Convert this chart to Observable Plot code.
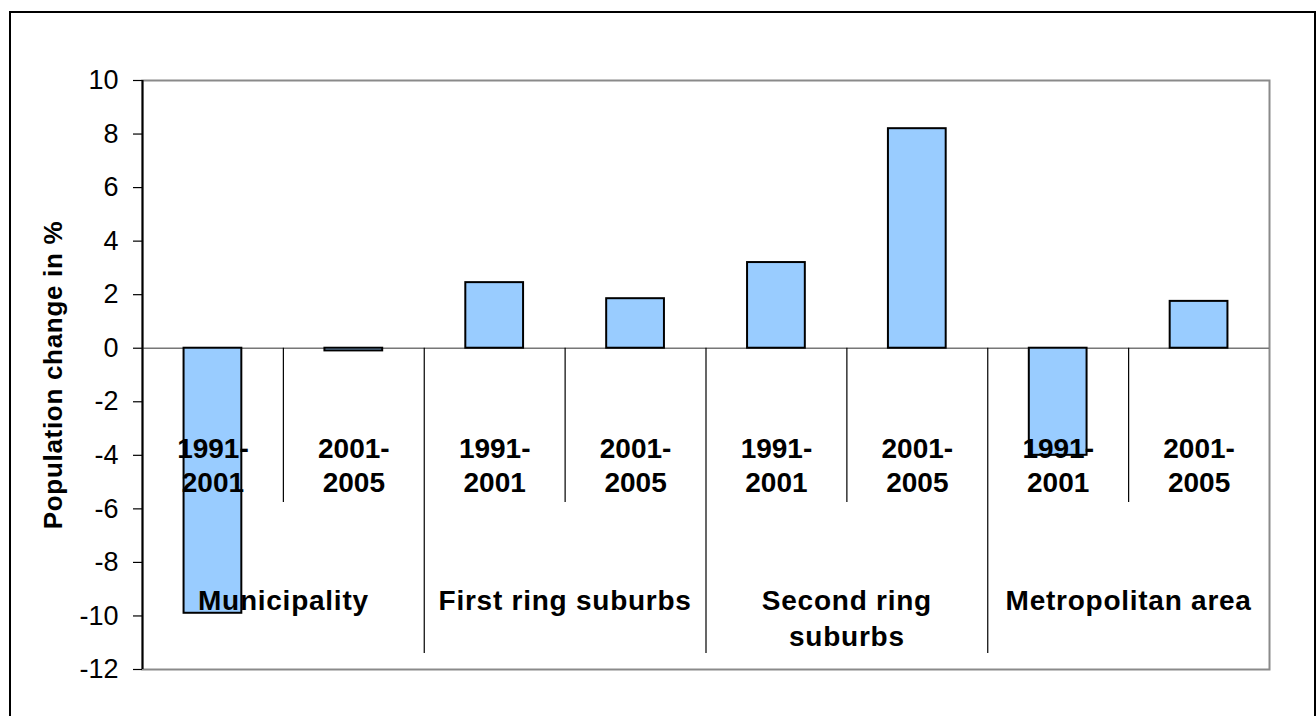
<!DOCTYPE html>
<html>
<head>
<meta charset="utf-8">
<script src="https://cdn.jsdelivr.net/npm/d3@7"></script>
<script src="https://cdn.jsdelivr.net/npm/@observablehq/plot@0.6"></script>
<style>
  html, body { margin: 0; padding: 0; background: #fff; overflow: hidden; }
  #chart svg { display: block; overflow: visible; }
</style>
</head>
<body>
<div id="chart"></div>
<script>
// ---- data ----
const groups = ["Municipality", "First ring suburbs", "Second ring\nsuburbs", "Metropolitan area"];
const periods = ["1991-\n2001", "2001-\n2005"];
const change = [-9.9, -0.1, 2.45, 1.85, 3.2, 8.2, -4.0, 1.75];
const yTicks = [10, 8, 6, 4, 2, 0, -2, -4, -6, -8, -10, -12];
const yTitle = "Population change in %";

// ---- derived tables ----
const rows = change.map((v, i) => ({
  slot: i,
  group: groups[Math.floor(i / 2)],
  period: periods[i % 2],
  value: v
}));
const groupRows = groups.map((g, k) => ({ group: g, center: 2 * k + 1 }));
const seps = d3.range(1, rows.length).map(k => ({ pos: k, long: k % 2 === 0 }));

// ---- layout constants ----
const barW = 0.41;
const shortSepEnd = -5.76;
const longSepEnd = -11.4;
const font = "'Liberation Sans', Arial, Helvetica, sans-serif";

const chart = Plot.plot({
  width: 1316,
  height: 716,
  marginLeft: 142,
  marginRight: 47,
  marginTop: 80,
  marginBottom: 47,
  style: { fontFamily: font, background: "white", color: "black" },
  x: { type: "linear", domain: [0, rows.length], axis: null },
  y: { domain: [-12, 10], axis: null },
  marks: [
    // outer chart border
    Plot.frame({ stroke: "black", strokeWidth: 2, insetLeft: -132.5, insetTop: -68.5, insetRight: -45.5, insetBottom: -60 }),
    // plot area border
    Plot.frame({ stroke: "#8a8a8a", strokeWidth: 2 }),
    // zero line
    Plot.ruleY([0], { stroke: "#777", strokeWidth: 1.5 }),
    // category separators
    Plot.ruleX(seps, { x: "pos", y1: 0, y2: d => d.long ? longSepEnd : shortSepEnd, stroke: "black", strokeWidth: 1.2 }),
    // y axis line
    Plot.ruleX([0], { y1: -12, y2: 10, stroke: "black", strokeWidth: 2 }),
    Plot.axisY({ ticks: yTicks, tickSize: 9, tickPadding: 15, fontSize: 27, stroke: "black", strokeWidth: 1.2, label: null, tickFormat: d => String(d) }),
    // bars
    Plot.rect(rows, {
      x1: d => d.slot + (1 - barW) / 2,
      x2: d => d.slot + (1 + barW) / 2,
      y1: 0,
      y2: "value",
      fill: "#99CCFF",
      stroke: "black",
      strokeWidth: 2
    }),
    // period labels
    Plot.text(rows, {
      x: d => d.slot + 0.5,
      y: 0,
      text: "period",
      lineAnchor: "top",
      dy: 86,
      lineHeight: 1.21,
      fontSize: 28,
      fontWeight: "bold",
      fill: "black"
    }),
    // group labels
    Plot.text(groupRows, {
      x: "center",
      y: 0,
      text: "group",
      lineAnchor: "top",
      dy: 237,
      lineHeight: 1.26,
      fontSize: 28,
      fontWeight: "bold",
      fill: "black"
    }),
    // y title
    Plot.text([yTitle], {
      text: d => d,
      frameAnchor: "left",
      textAnchor: "middle",
      lineAnchor: "middle",
      rotate: -90,
      dx: -88.6,
      fontSize: 26,
      fontWeight: "bold",
      fill: "black"
    })
  ]
});

// letter spacing for the category group labels and the axis title
const groupTexts = new Set(groups.map(g => g.replace(/\n/g, "")));
d3.select(chart).selectAll("text").each(function () {
  const t = this.textContent;
  if (groupTexts.has(t)) d3.select(this).style("letter-spacing", "0.75px");
  else if (t === yTitle) d3.select(this).style("letter-spacing", "0.7px");
});

document.getElementById("chart").appendChild(chart);
</script>
</body>
</html>
